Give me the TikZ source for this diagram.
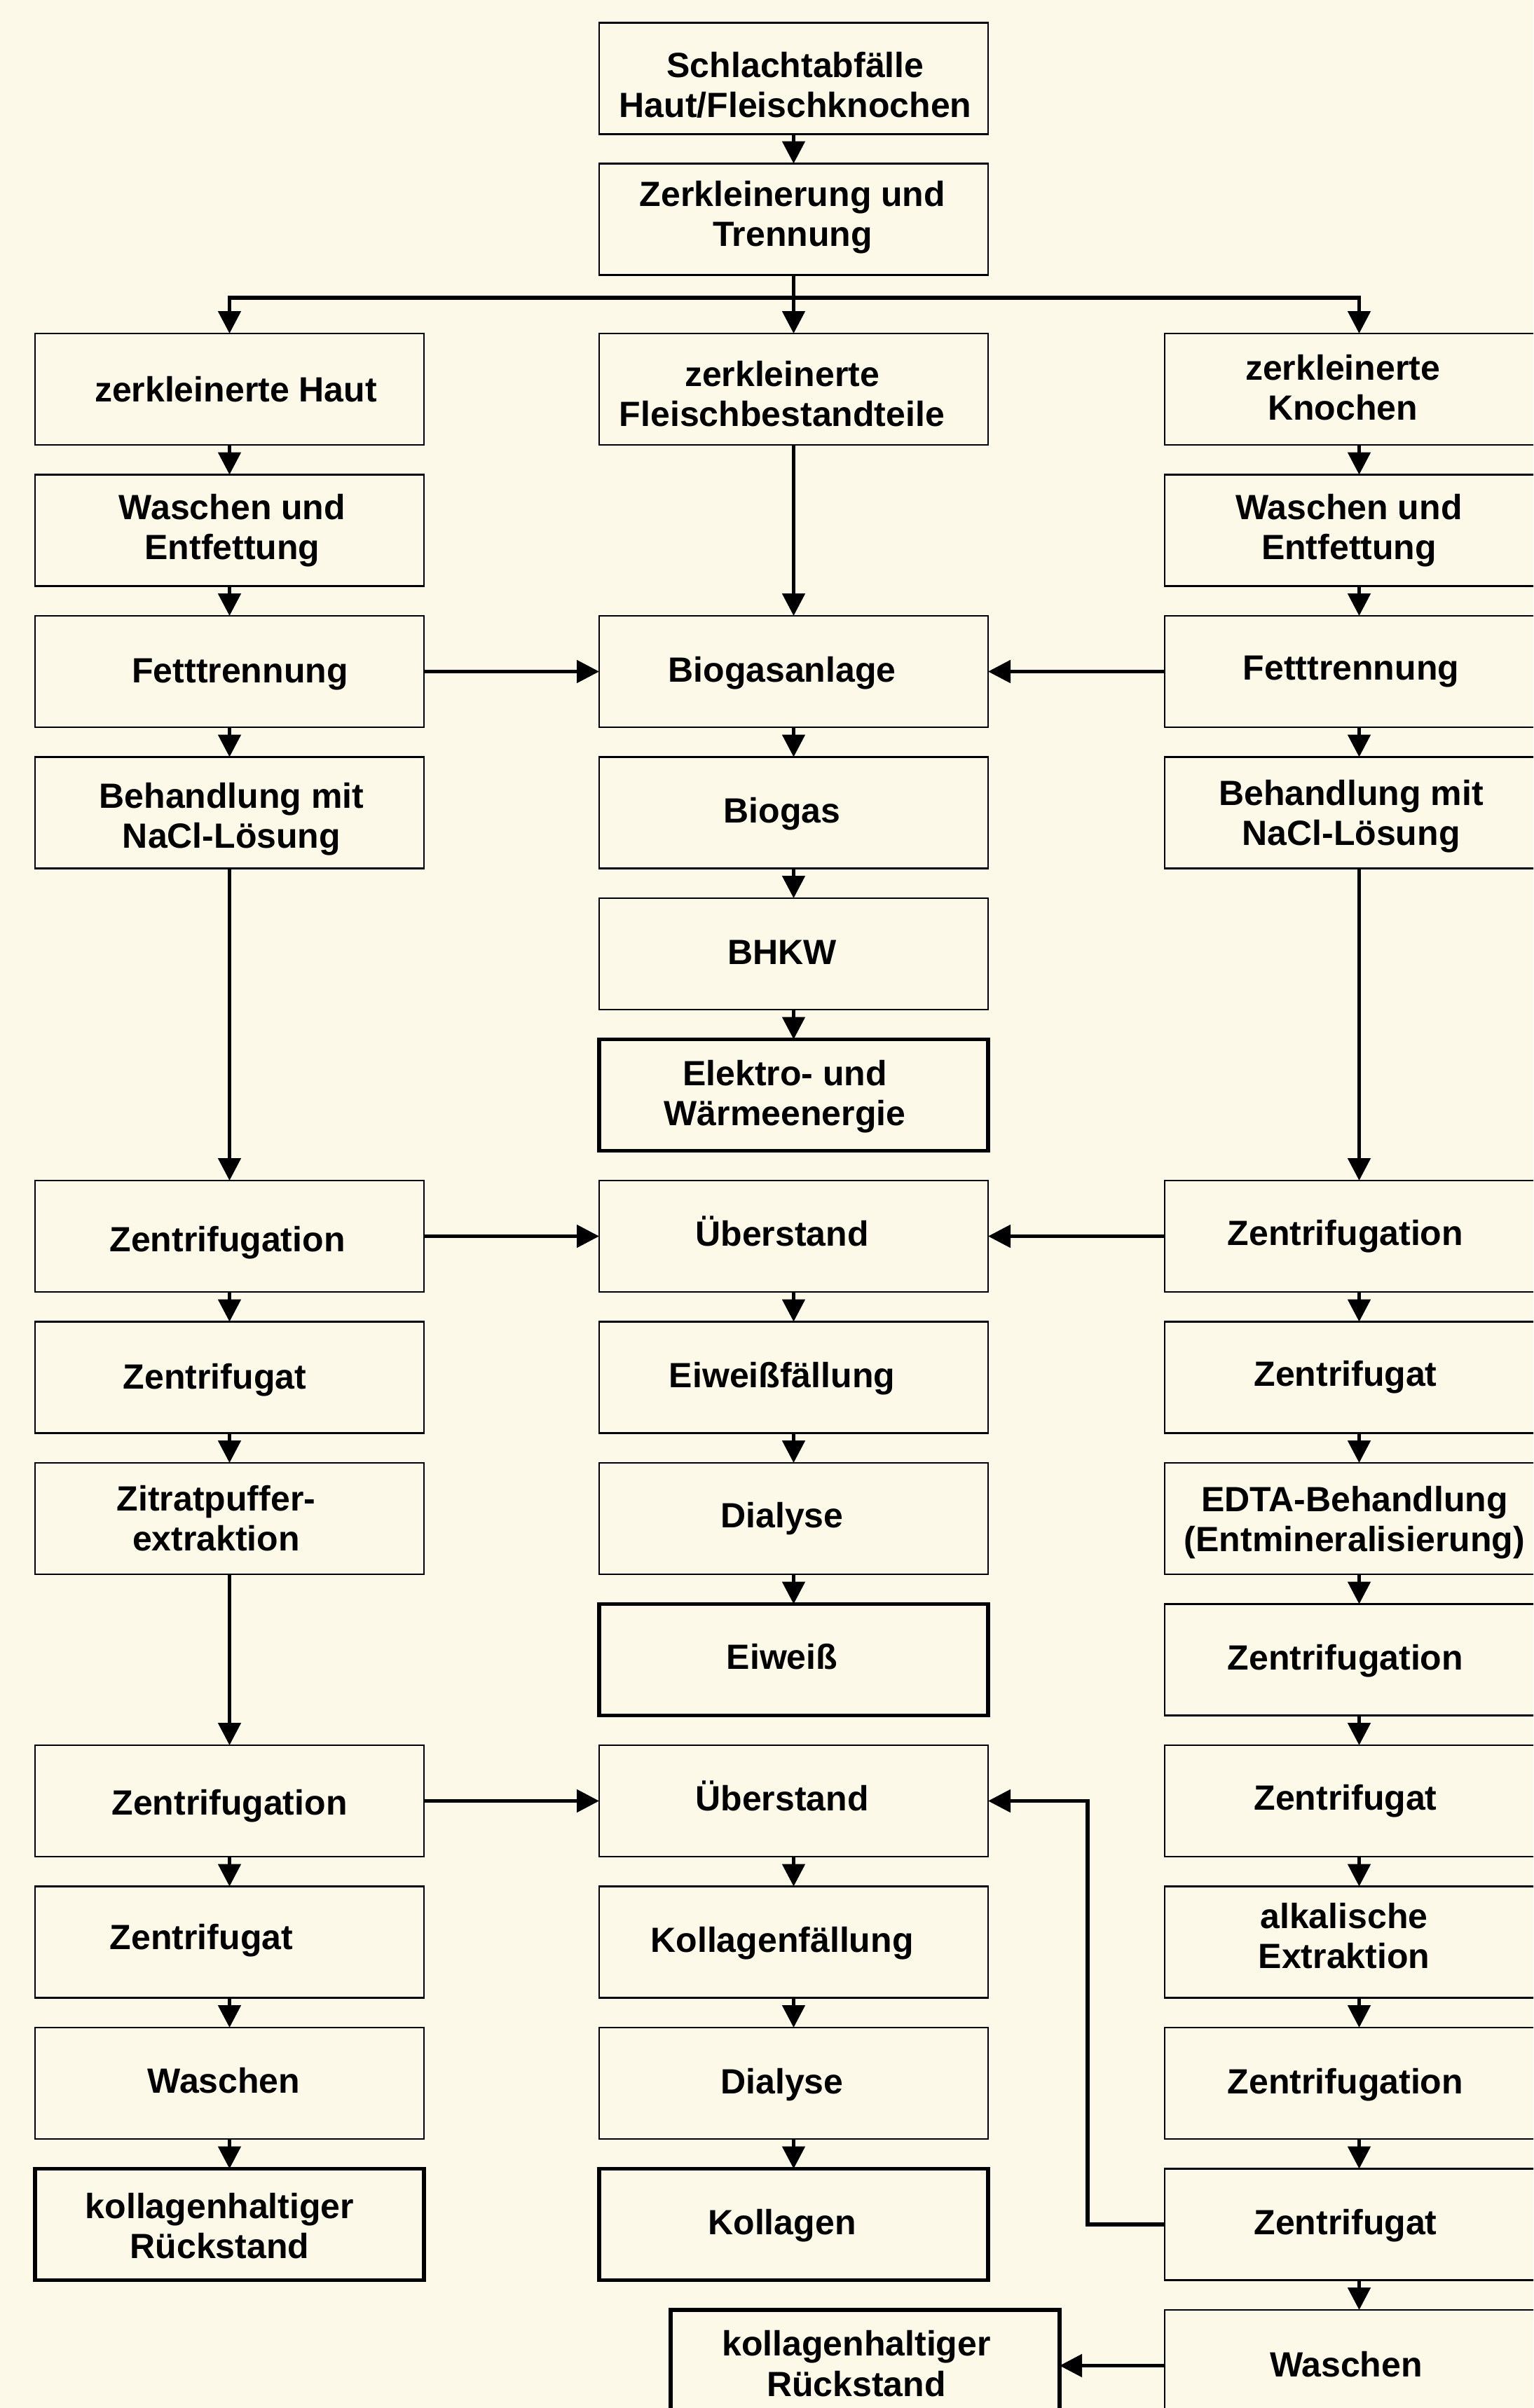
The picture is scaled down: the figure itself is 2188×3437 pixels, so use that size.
\documentclass[tikz,border=0pt]{standalone}
\usepackage{fontspec}
\setmainfont{Liberation Sans}
\usetikzlibrary{arrows.meta}
\definecolor{bg}{RGB}{253,249,233}
\tikzset{
  box/.style={draw=black, line width=0.6pt, fill=bg, minimum width=138.75pt, minimum height=39.75pt, inner sep=0pt, outer sep=0pt},
  thickbox/.style={box, line width=1.3pt},
  txt/.style={font=\fontsize{12.5}{14.3}\selectfont\bfseries, align=center, inner sep=0pt},
  arr/.style={line width=1.3pt, -{Triangle[length=8pt,width=8pt]}},
}
% #1 style, #2 name, #3 x, #4 y, #5 text x, #6 text y shift, #7 text
\newcommand\bx[7]{\node[#1] (#2) at (#3,#4) {}; \node[txt] at (#5,#4+#6) {#7};}
\begin{document}
\begin{tikzpicture}[x=0.25pt,y=-0.25pt]
\useasboundingbox (0,0) rectangle (2188,3437);
\fill[bg] (0,0) rectangle (2188,3437);
\clip (0,0) rectangle (2188,3437);
% row 0,1
\bx{box}{c0}{1132.5}{112}{1135}{9}{Schlachtabfälle\\Haut/Fleischknochen}
\bx{box}{c1}{1132.5}{313}{1131}{-3}{Zerkleinerung und\\Trennung}
% row 2
\bx{box}{lHaut}{327.5}{555.5}{336.5}{0}{zerkleinerte Haut}
\bx{box}{cFl}{1132.5}{555.5}{1116}{7}{zerkleinerte\\Fleischbestandteile}
\bx{box}{rKn}{1939.5}{555.5}{1916}{-2}{zerkleinerte\\Knochen}
% row 3
\bx{box}{lWE}{327.5}{757}{331.5}{0}{Waschen und\\Entfettung}
\bx{box}{rWE}{1939.5}{757}{1925}{0}{Waschen und\\Entfettung}
% row 4
\bx{box}{lFett}{327.5}{958.5}{342.5}{4}{Fetttrennung}
\bx{box}{cBio}{1132.5}{958.5}{1116}{2}{Biogasanlage}
\bx{box}{rFett}{1939.5}{958.5}{1928}{0}{Fetttrennung}
% row 5
\bx{box}{lNaCl}{327.5}{1160}{330.5}{9}{Behandlung mit\\NaCl-Lösung}
\bx{box}{cBgs}{1132.5}{1160}{1116}{2}{Biogas}
\bx{box}{rNaCl}{1939.5}{1160}{1928}{5}{Behandlung mit\\NaCl-Lösung}
% row 6,7
\bx{box}{cBHKW}{1132.5}{1361.5}{1116}{-2}{BHKW}
\bx{thickbox}{cEl}{1132.5}{1563}{1120}{2}{Elektro- und\\Wärmeenergie}
% row 8
\bx{box}{lZ1}{327.5}{1764.5}{324.5}{9}{Zentrifugation}
\bx{box}{cUe1}{1132.5}{1764.5}{1116}{-7}{Überstand}
\bx{box}{rZ1}{1939.5}{1764.5}{1920}{0}{Zentrifugation}
% row 9
\bx{box}{lZg1}{327.5}{1966}{306.5}{4}{Zentrifugat}
\bx{box}{cEf}{1132.5}{1966}{1116}{2}{Eiweißfällung}
\bx{box}{rZg1}{1939.5}{1966}{1920}{0}{Zentrifugat}
% row 10
\bx{box}{lZit}{327.5}{2167.5}{308.5}{0}{Zitratpuffer-\\extraktion}
\bx{box}{cDi1}{1132.5}{2167.5}{1116}{0}{Dialyse}
\bx{box}{rEDTA}{1939.5}{2167.5}{1933}{6}{EDTA-Behandlung\\(Entmineralisierung)}
% row 11
\bx{thickbox}{cEw}{1132.5}{2369}{1116}{-4}{Eiweiß}
\bx{box}{rZ2}{1939.5}{2369}{1920}{2}{Zentrifugation}
% row 12
\bx{box}{lZ2}{327.5}{2570.5}{327.5}{7}{Zentrifugation}
\bx{box}{cUe2}{1132.5}{2570.5}{1116}{-7}{Überstand}
\bx{box}{rZg2}{1939.5}{2570.5}{1920}{0}{Zentrifugat}
% row 13
\bx{box}{lZg2}{327.5}{2772}{287.5}{-2}{Zentrifugat}
\bx{box}{cKf}{1132.5}{2772}{1116}{2}{Kollagenfällung}
\bx{box}{rAlk}{1939.5}{2772}{1918}{-9}{alkalische\\Extraktion}
% row 14
\bx{box}{lWa}{327.5}{2973.5}{319.5}{-4}{Waschen}
\bx{box}{cDi2}{1132.5}{2973.5}{1116}{2}{Dialyse}
\bx{box}{rZ3}{1939.5}{2973.5}{1920}{2}{Zentrifugation}
% row 15
\bx{thickbox}{lRk}{327.5}{3175}{313.5}{2}{kollagenhaltiger\\Rückstand}
\bx{thickbox}{cKo}{1132.5}{3175}{1116}{2}{Kollagen}
\bx{box}{rZg3}{1939.5}{3175}{1920}{2}{Zentrifugat}
% row 16
\bx{thickbox}{bRk}{1234.5}{3376.5}{1222}{-3}{kollagenhaltiger\\Rückstand}
\bx{box}{rWa}{1939.5}{3376.5}{1921}{-2}{Waschen}
% connectors
\coordinate (bar) at (0,425);
\coordinate (fbx) at (1552,0);
\draw[arr] (c0.south) -- (c1.south |- c1.north);
\draw[arr] (c1.south |- bar) -| (lHaut.north);
\draw[arr] (c1.south |- bar) -| (rKn.north);
\draw[arr] (c1.south) -- (cFl.north);
\foreach \a/\b in {cFl/cBio, cBio/cBgs, cBgs/cBHKW, cBHKW/cEl, cUe1/cEf, cEf/cDi1, cDi1/cEw, cUe2/cKf, cKf/cDi2, cDi2/cKo,
  lHaut/lWE, lWE/lFett, lFett/lNaCl, lNaCl/lZ1, lZ1/lZg1, lZg1/lZit, lZit/lZ2, lZ2/lZg2, lZg2/lWa, lWa/lRk,
  rKn/rWE, rWE/rFett, rFett/rNaCl, rNaCl/rZ1, rZ1/rZg1, rZg1/rEDTA, rEDTA/rZ2, rZ2/rZg2, rZg2/rAlk, rAlk/rZ3, rZ3/rZg3, rZg3/rWa}
  {\draw[arr] (\a.south) -- (\b.north);}
\draw[arr] (lFett.east) -- (cBio.west);
\draw[arr] (rFett.west) -- (cBio.east);
\draw[arr] (lZ1.east) -- (cUe1.west);
\draw[arr] (rZ1.west) -- (cUe1.east);
\draw[arr] (lZ2.east) -- (cUe2.west);
\draw[arr] (rZg3.west) -- (rZg3.west -| fbx) |- (cUe2.east);
\draw[arr] (rWa.west) -- (bRk.east);
\end{tikzpicture}
\end{document}
